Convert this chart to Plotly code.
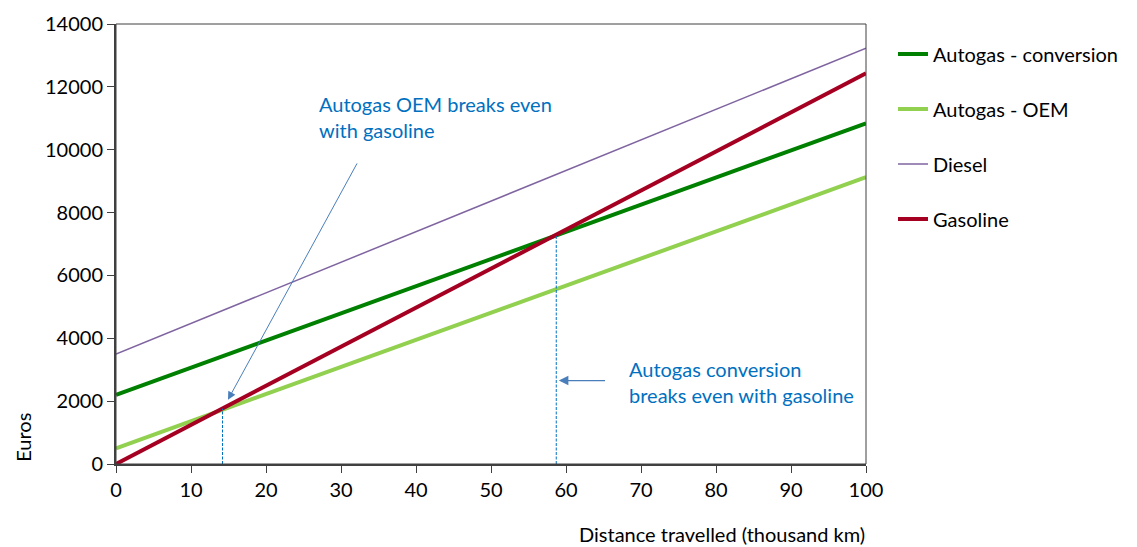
import plotly.graph_objects as go

# Data
distance = [0, 100]  # thousand km
autogas_conversion = [2200, 10840]
autogas_oem = [500, 9125]
diesel = [3500, 13230]
gasoline = [0, 12430]
breakeven_x = [14.2, 58.7]
breakeven_y = [1760, 7300]
x_ticks = list(range(0, 101, 10))
y_ticks = list(range(0, 14001, 2000))

FONT = "Lato"
FS = 20
fig = go.Figure()

series = [
    ("Autogas - conversion", autogas_conversion, "#008000", 4),
    ("Autogas - OEM", autogas_oem, "#92D050", 4),
    ("Diesel", diesel, "#7F64A0", 1.5),
    ("Gasoline", gasoline, "#A50021", 4),
]
for name, vals, col, w in series:
    fig.add_trace(go.Scatter(x=distance, y=vals, mode="lines", name=name,
                             legendgroup=name,
                             line=dict(color=col, width=w)))

for bx, by in zip(breakeven_x, breakeven_y):
    fig.add_trace(go.Scatter(x=[bx, bx], y=[0, by], mode="lines", showlegend=False,
                             line=dict(color="#0070C0", width=1, dash="3px,1.5px")))

arrow_col = "#4A7EBB"
fig.add_annotation(x=14.93, y=2045, ax=32.25, ay=9612, xref="x", yref="y",
                   axref="x", ayref="y", text="", showarrow=True, arrowhead=2,
                   arrowsize=1.6, arrowwidth=1, arrowcolor=arrow_col)
fig.add_annotation(x=59.04, y=2655, ax=65.4, ay=2655, xref="x", yref="y",
                   axref="x", ayref="y", text="", showarrow=True, arrowhead=2,
                   arrowsize=1.6, arrowwidth=1.2, arrowcolor=arrow_col)

fig.add_annotation(x=26.8, y=11900, xref="x", yref="y", xanchor="left", yanchor="top",
                   align="left", showarrow=False,
                   text="Autogas OEM breaks even<br>with gasoline",
                   font=dict(family=FONT, size=FS, color="#0070C0"))
fig.add_annotation(x=68.1, y=3470, xref="x", yref="y", xanchor="left", yanchor="top",
                   align="left", showarrow=False,
                   text="Autogas conversion<br>breaks even with gasoline",
                   font=dict(family=FONT, size=FS, color="#0070C0"))

fig.add_annotation(x=-0.125, y=0.06, xref="paper", yref="paper", text="Euros",
                   textangle=-90, showarrow=False, xanchor="center", yanchor="middle",
                   font=dict(family=FONT, size=FS, color="#000000"))
fig.add_annotation(x=0.808, y=-0.16, xref="paper", yref="paper",
                   text="Distance travelled (thousand km)", showarrow=False,
                   xanchor="center", yanchor="middle",
                   font=dict(family=FONT, size=FS, color="#000000"))

fig.add_shape(type="rect", xref="paper", yref="paper", x0=0, y0=0, x1=1, y1=1,
              line=dict(color="#404040", width=1), layer="above")

fig.update_layout(
    width=1129, height=539,
    margin=dict(l=108, r=271, t=16, b=83, autoexpand=False),
    paper_bgcolor="white", plot_bgcolor="white",
    font=dict(family=FONT, size=FS, color="#000000"),
    showlegend=True,
    legend=dict(x=1.036, y=0.976, xanchor="left", yanchor="top",
                tracegroupgap=26, font=dict(family=FONT, size=FS),
                bgcolor="rgba(0,0,0,0)"),
    xaxis=dict(range=[0, 100], tickvals=x_ticks, showgrid=False, zeroline=False,
               showline=True, linecolor="#404040", linewidth=2,
               ticks="outside", ticklen=7, tickcolor="#404040", tickwidth=1),
    yaxis=dict(range=[0, 14000], tickvals=y_ticks, tickformat="d",
               showgrid=False, zeroline=False,
               showline=True, linecolor="#404040", linewidth=2,
               ticks="outside", ticklen=7, tickcolor="#404040", tickwidth=1),
)

fig.write_html("out.html")
